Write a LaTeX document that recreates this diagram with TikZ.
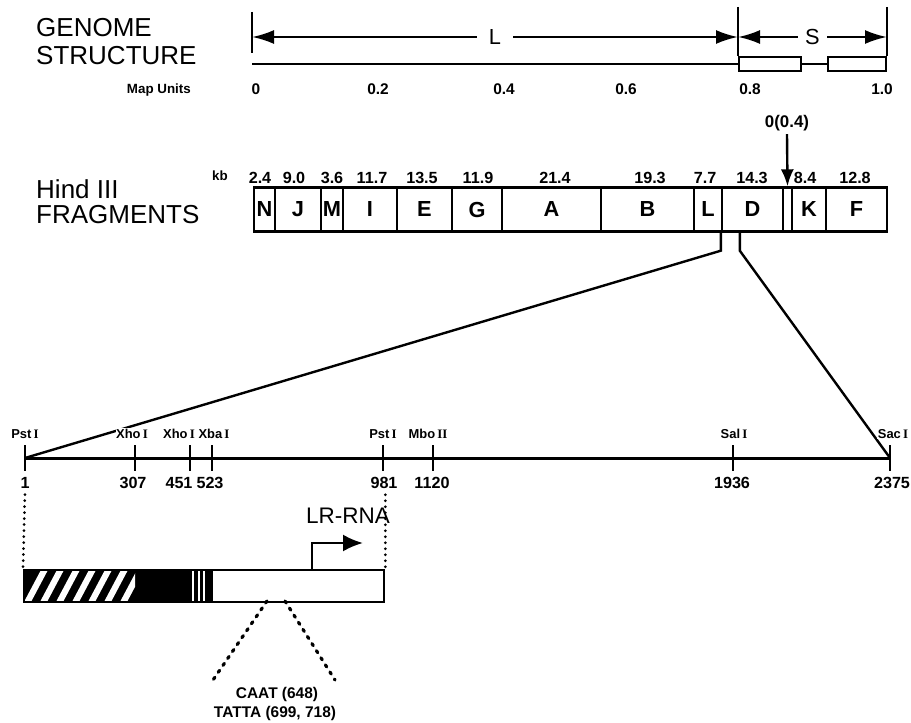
\documentclass[tikz,border=0pt]{standalone}
\usepackage{fontspec}
\setmainfont{Liberation Serif}
\setsansfont{Liberation Sans}
\usetikzlibrary{arrows.meta,positioning,calc}
\newcommand\fsz[1]{\fontsize{#1}{#1}\selectfont}
\newcommand\enz[2]{#1\,{\rmfamily\bfseries #2}}

\begin{document}
\begin{tikzpicture}[x=0.25mm,y=-0.25mm,>=Latex,line width=0.6mm,
  title/.style={font=\sffamily\fsz{18.5},anchor=base west,inner sep=0pt},
  num/.style={font=\sffamily\bfseries\fsz{11.5},anchor=base,inner sep=1pt},
  site/.style={font=\sffamily\bfseries\fsz{9.2},anchor=base,fill=white,inner sep=0.4pt},
  frag/.style={draw,inner sep=0pt,minimum height=11mm,font=\sffamily\bfseries\fsz{15.5}},
  seg/.style={draw,inner sep=0pt,minimum height=3.5mm},
  dots/.style={line width=0.75mm,line cap=round,dash pattern=on 0pt off 1.5mm},
  ddots/.style={line width=0.8mm,line cap=round,dash pattern=on 0.6mm off 1.5mm}]
\useasboundingbox[fill=white] (0,0) rectangle (911,723);
\node[title] (gen) at (35,37) {GENOME};\node[title] (str) at (35,65) {STRUCTURE};
\node[font=\sffamily\bfseries\fsz{9.5},anchor=base east,inner sep=0pt] (mu) at (192,94) {Map Units};
\coordinate (g0) at (252,64);\coordinate (gL0) at (252,37);\coordinate (gL1) at (738,37);\coordinate (gS1) at (887,37);
\node[seg,minimum width=15.5mm,anchor=west] (s1) at (738,64) {};\node[seg,minimum width=14.5mm,anchor=east] (s2) at (887,64) {};
\draw (g0) -- (s1.west);\draw (s1) -- (s2);
\draw (252,12) -- (252,53);\draw (738,7) -- (s1.north west);\draw (887,7) -- (s2.north east);
\draw[{Latex[length=5.5mm,width=3.5mm]}-{Latex[length=5.5mm,width=3.5mm]}] (gL0) -- node[fill=white,inner xsep=3mm,font=\sffamily\fsz{15.5}] (armL) {L} (gL1);
\draw[{Latex[length=5.5mm,width=3.5mm]}-{Latex[length=5.5mm,width=3.5mm]}] (gL1) -- node[fill=white,inner xsep=1.8mm,font=\sffamily\fsz{15.5}] (armS) {S} (gS1);
\foreach \v/\x in {0/256,0.2/378,0.4/504,0.6/626,0.8/750,1.0/882}{\node[num,font=\sffamily\bfseries\fsz{11}] (m\x) at (\x,95) {\v};}

\node[title] (hind) at (35,199) {Hind III};\node[title] (frags) at (35,223) {FRAGMENTS};
\node[font=\sffamily\bfseries\fsz{9.5},anchor=base] (kb) at (220,180) {kb};
\foreach \l/\a/\b/\c/\k in {N/254/275/260/2.4,J/275/321/294/9.0,M/321/343/332/3.6,I/343/397/372/11.7,E/397/452/422/13.5,G/452/502/478/11.9,
  A/502/601/555/21.4,B/601/694/650/19.3,L/694/722/705/7.7,D/722/783/752/14.3,K/792/826/805/8.4,F/826/887/855/12.8}
  {\node[frag,minimum width={(\b-\a)*0.25mm}] (f\l) at ({(\a+\b)/2},209.5) {\l};\node[num] (k\l) at (\c,183) {\k};}
\node[frag,minimum width=2.25mm] (fgap) at (787.5,209.5) {};
\node[num,font=\sffamily\bfseries\fsz{12}] (ori) at (787,128) {0(0.4)};
\draw[-{Latex[length=4.25mm,width=3.25mm]}] (ori.south) -- (fgap.north);

\foreach \x/\n/\nx in {25/1/25,135/307/133,190/451/179,212/523/210,383/981/384,433/1120/432,733/1936/732,890/2375/892}
  {\coordinate (r\n) at (\x,458);\draw (\x,445) -- (\x,471);\node[num] (n\n) at (\nx,488) {\n};}
\draw[line width=0.75mm] (r1) -- (r2375);
\draw (fD.south west) -- ++(0,18) -- (r1);\draw ([xshift=4.75mm]fD.south west) -- ++(0,18) -- (r2375);
\foreach \x/\e/\r in {25/Pst/I,132/Xho/I,179/Xho/I,214/Xba/I,383/Pst/I,428/Mbo/II,734/Sal/I,893/Sac/I}
  {\node[site] (e\x) at (\x,438) {\enz{\e}{\r}};}

\fill (23,569) rectangle (213,601);
\begin{scope}
\clip (23,569) rectangle (135,601);
\foreach \i in {0,...,8}{\draw[white,line width=1.55mm] ({22.7+16*\i},611) -- ++(27.6,-52);}
\end{scope}
\foreach \x in {193,198.5,204}{\draw[white,line width=0.5mm] (\x,569) -- (\x,601);}
\node[draw,inner sep=0pt,minimum width=90mm,minimum height=8mm,anchor=north west] (gene) at (23,569) {};
\draw[dots,shorten <=1mm] (n1.south) -- (gene.north west);
\draw[dots,shorten <=1mm] (n981.south -| gene.north east) -- (gene.north east);
\node[font=\sffamily\fsz{16},anchor=base] (lr) at (348,523) {LR-RNA};
\coordinate (tss) at (312,569);\coordinate (tssend) at (363,543);
\draw[-{Latex[length=5mm,width=4.25mm]}] (tss) |- (tssend);
\coordinate (caL) at (267,601);\coordinate (caR) at (285,601);\coordinate (endL) at (213,680);\coordinate (endR) at (335,680);
\draw[ddots] (caL) -- (endL);\draw[ddots] (caR) -- (endR);
\node[num,font=\sffamily\bfseries\fsz{11}] (caat) at (277,698) {CAAT (648)};
\node[num,font=\sffamily\bfseries\fsz{11}] (tatta) at (275,717) {TATTA (699, 718)};
\end{tikzpicture}
\end{document}
